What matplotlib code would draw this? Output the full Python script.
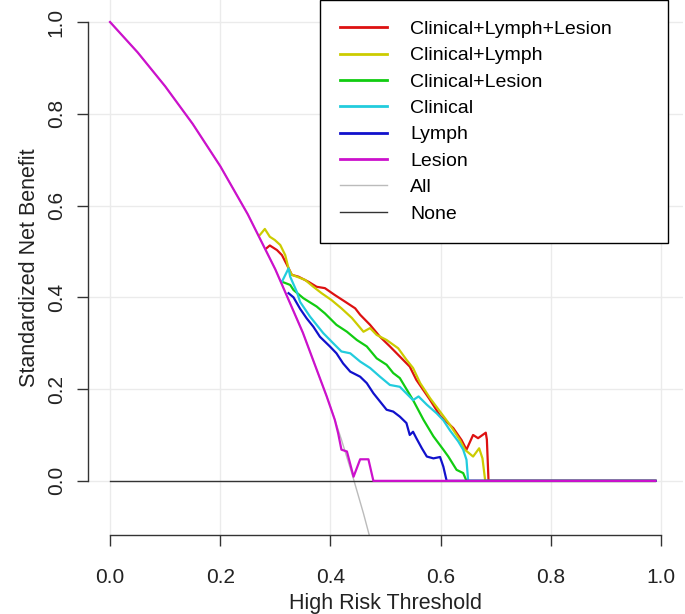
import matplotlib
matplotlib.use('Agg')
import matplotlib.pyplot as plt

plt.rcParams['font.family'] = ['Liberation Sans', 'DejaVu Sans']

# curves (threshold, standardized net benefit)
red_x = [0.284, 0.290, 0.303, 0.312, 0.321, 0.330, 0.342, 0.360, 0.375, 0.390, 0.408, 0.426,
         0.445, 0.454, 0.472, 0.490, 0.508, 0.526, 0.544, 0.556, 0.580, 0.599, 0.623, 0.638,
         0.647, 0.659, 0.668, 0.682, 0.684, 0.687, 0.99]
red_y = [0.507, 0.513, 0.503, 0.492, 0.471, 0.449, 0.445, 0.434, 0.423, 0.420, 0.405, 0.391,
         0.376, 0.362, 0.340, 0.314, 0.293, 0.271, 0.249, 0.220, 0.178, 0.142, 0.115, 0.089,
         0.068, 0.100, 0.093, 0.105, 0.090, 0.0, 0.0]

yel_x = [0.272, 0.281, 0.290, 0.299, 0.309, 0.318, 0.324, 0.330, 0.339, 0.354, 0.369, 0.384,
         0.402, 0.420, 0.439, 0.460, 0.472, 0.484, 0.502, 0.523, 0.538, 0.550, 0.563, 0.581,
         0.599, 0.617, 0.635, 0.644, 0.659, 0.670, 0.676, 0.681, 0.99]
yel_y = [0.536, 0.549, 0.532, 0.525, 0.514, 0.492, 0.463, 0.449, 0.445, 0.438, 0.423, 0.409,
         0.394, 0.376, 0.355, 0.325, 0.333, 0.318, 0.307, 0.289, 0.264, 0.246, 0.213, 0.180,
         0.151, 0.122, 0.089, 0.068, 0.053, 0.071, 0.049, 0.0, 0.0]

grn_x = [0.312, 0.327, 0.333, 0.351, 0.375, 0.390, 0.411, 0.430, 0.448, 0.466, 0.484, 0.502,
         0.514, 0.526, 0.550, 0.569, 0.587, 0.605, 0.614, 0.629, 0.641, 0.647, 0.99]
grn_y = [0.434, 0.427, 0.416, 0.398, 0.380, 0.365, 0.340, 0.325, 0.307, 0.293, 0.267, 0.253,
         0.235, 0.224, 0.176, 0.133, 0.097, 0.068, 0.053, 0.024, 0.017, 0.0, 0.0]

cyn_x = [0.312, 0.324, 0.327, 0.339, 0.345, 0.363, 0.387, 0.405, 0.420, 0.436, 0.454, 0.472,
         0.490, 0.508, 0.526, 0.550, 0.560, 0.575, 0.593, 0.605, 0.617, 0.632, 0.641, 0.647,
         0.650, 0.99]
cyn_y = [0.434, 0.463, 0.445, 0.412, 0.390, 0.358, 0.322, 0.300, 0.282, 0.278, 0.260, 0.246,
         0.227, 0.209, 0.205, 0.176, 0.184, 0.166, 0.147, 0.132, 0.110, 0.086, 0.068, 0.046,
         0.0, 0.0]

blu_x = [0.324, 0.333, 0.345, 0.357, 0.369, 0.381, 0.399, 0.411, 0.423, 0.436, 0.454, 0.466,
         0.478, 0.490, 0.502, 0.514, 0.526, 0.538, 0.544, 0.550, 0.556, 0.566, 0.575, 0.587,
         0.599, 0.605, 0.611, 0.99]
blu_y = [0.409, 0.400, 0.375, 0.354, 0.336, 0.314, 0.293, 0.278, 0.256, 0.238, 0.227, 0.213,
         0.191, 0.173, 0.155, 0.151, 0.140, 0.126, 0.100, 0.107, 0.093, 0.071, 0.053, 0.049,
         0.052, 0.031, 0.0, 0.0]

mag_x = [0.0, 0.05, 0.10, 0.15, 0.20, 0.25, 0.30, 0.35, 0.393, 0.408, 0.414, 0.420, 0.430,
         0.442, 0.454, 0.469, 0.478, 0.99]
mag_y = [1.0, 0.934, 0.860, 0.778, 0.686, 0.581, 0.461, 0.323, 0.185, 0.133, 0.104, 0.068,
         0.064, 0.009, 0.047, 0.047, 0.0, 0.0]

all_x = [0.0, 0.05, 0.10, 0.15, 0.20, 0.25, 0.30, 0.35, 0.40, 0.42, 0.44, 0.46, 0.48, 0.50, 0.60]
all_y = [1.0, 0.934, 0.860, 0.778, 0.686, 0.581, 0.461, 0.323, 0.162, 0.090, 0.012, -0.071,
         -0.161, -0.257, -0.886]

none_x = [0.0, 0.99]
none_y = [0.0, 0.0]

labels = ['Clinical+Lymph+Lesion', 'Clinical+Lymph', 'Clinical+Lesion', 'Clinical',
          'Lymph', 'Lesion', 'All', 'None']
colors = ['#DD1111', '#CCCC00', '#11CC11', '#22CCDD', '#1111CC', '#CC11CC', '#BBBBBB', '#333333']
ticks = [0.0, 0.2, 0.4, 0.6, 0.8, 1.0]

fig = plt.figure(figsize=(6.85, 6.14), dpi=100)
ax = fig.add_axes([88 / 685, 79 / 614, 595 / 685, 535 / 614])

series = [(red_x, red_y), (yel_x, yel_y), (grn_x, grn_y), (cyn_x, cyn_y),
          (blu_x, blu_y), (mag_x, mag_y)]
lines = []
ln_all, = ax.plot(all_x, all_y, color=colors[6], lw=1.0, zorder=2)
ln_none, = ax.plot(none_x, none_y, color=colors[7], lw=1.0, zorder=2)
for i, (sx, sy) in enumerate(series):
    ln, = ax.plot(sx, sy, color=colors[i], lw=1.6, zorder=3)
    lines.append(ln)
lines += [ln_all, ln_none]

ax.set_xlim(-0.04, 1.04)
ax.set_ylim(-0.118, 1.048)
ax.set_xticks(ticks)
ax.set_yticks(ticks)
ax.set_xticklabels(['%.1f' % t for t in ticks])
ax.set_yticklabels(['%.1f' % t for t in ticks], rotation=90, va='center')
ax.grid(color='#EBEBEB', lw=1.0)
ax.set_axisbelow(True)

for s in ['top', 'right']:
    ax.spines[s].set_visible(False)
ax.spines['left'].set_bounds(0, 1)
ax.spines['bottom'].set_bounds(0, 1)
for s in ['left', 'bottom']:
    ax.spines[s].set_color('#333333')
    ax.spines[s].set_linewidth(1.0)
ax.tick_params(axis='both', length=8, width=1.0, color='#333333', labelsize=15,
               labelcolor='#222222')
ax.tick_params(axis='x', pad=16)
ax.tick_params(axis='y', pad=8)

ax.set_xlabel('High Risk Threshold', fontsize=15.5, color='#222222', labelpad=4)
ax.set_ylabel('Standardized Net Benefit', fontsize=15.5, color='#222222', labelpad=5)

leg = fig.legend(lines, labels, loc='upper left',
                 bbox_to_anchor=(320 / 685, 1 - 238 / 614, 348 / 685, 238 / 614),
                 mode='expand', fontsize=14, frameon=True, fancybox=False,
                 edgecolor='black', framealpha=1.0, handlelength=2.4,
                 handletextpad=1.2, borderpad=1.05, labelspacing=0.45,
                 borderaxespad=0.0)
leg.get_frame().set_linewidth(1.0)
for h, lw in zip(leg.get_lines(), [2, 2, 2, 2, 2, 2, 1, 1]):
    h.set_linewidth(lw)

fig.savefig('out.png', dpi=100)
